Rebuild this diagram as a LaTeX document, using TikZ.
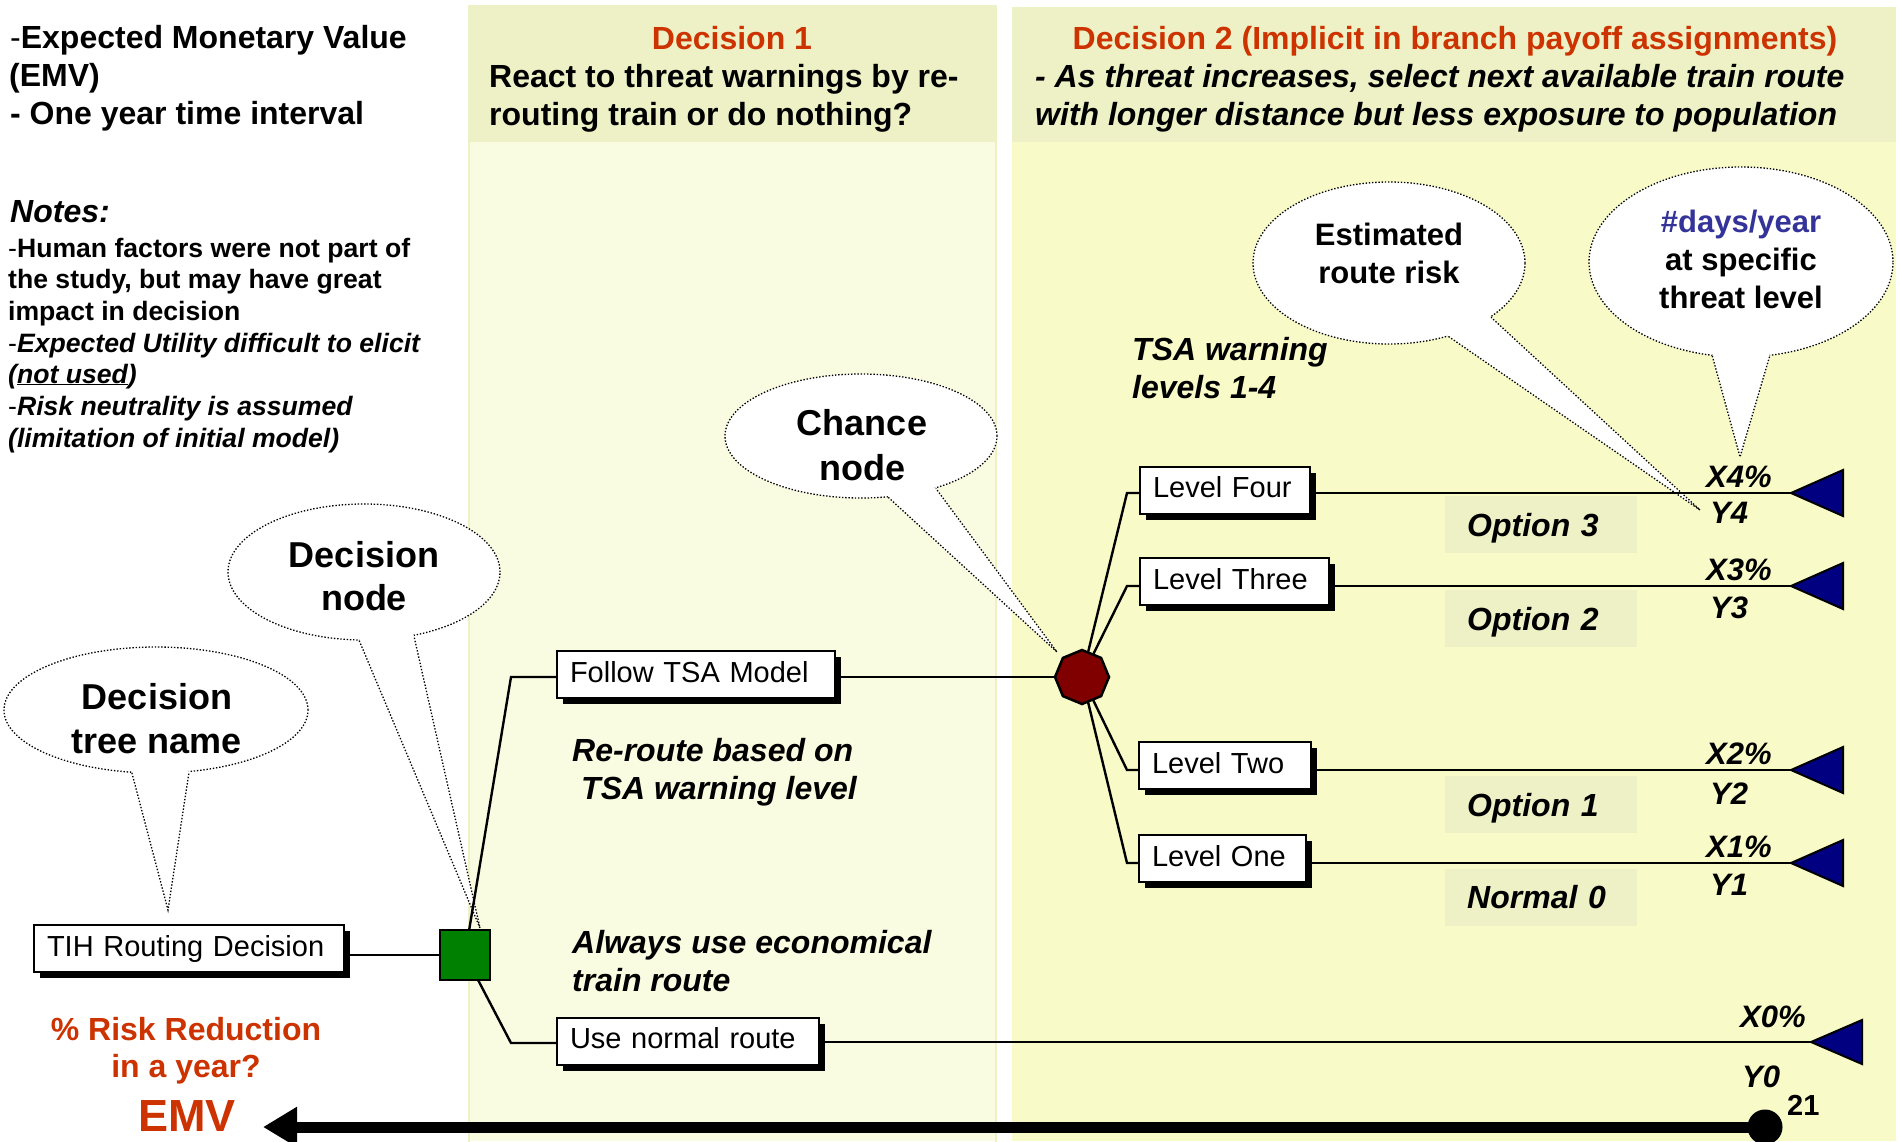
\documentclass[tikz,border=0pt]{standalone}
\usepackage{fontspec}
\setmainfont{Liberation Sans}
\usetikzlibrary{shapes.geometric,shadows,arrows.meta,calc}
\newcommand\myfs[2]{\fontsize{#1}{#2}\selectfont}
\definecolor{hdr}{HTML}{EEF0C6}
\definecolor{bodyA}{HTML}{FAFCE2}
\definecolor{bodyB}{HTML}{F8FAC8}
\definecolor{redo}{HTML}{CC3300}
\definecolor{navyt}{HTML}{000080}
\definecolor{chred}{HTML}{800000}
\definecolor{dgreen}{HTML}{008000}
\definecolor{bluet}{HTML}{333399}
\pgfdeclarelayer{bg}\pgfdeclarelayer{callouts}\pgfdeclarelayer{lines}
\pgfsetlayers{bg,callouts,lines,main}
\tikzset{
  tx/.style={anchor=base west, inner sep=0, font=\myfs{32}{38}\bfseries},
  txc/.style={anchor=base, inner sep=0, font=\myfs{32}{38}\bfseries},
  ital/.style={font=\myfs{32}{38}\bfseries\itshape},
  note/.style={anchor=base west, inner sep=0, font=\myfs{26.6}{32}\bfseries},
  tbox/.style={draw=black, line width=2, fill=white, anchor=west, inner xsep=13, inner ysep=0,
    minimum height=47, align=left, text height=21, text depth=6, font=\myfs{29}{31},
    drop shadow={shadow xshift=6pt, shadow yshift=-6pt, fill=black, opacity=1}},
  conn/.style={line width=2.4, line join=miter},
  payoff/.style={draw=black, fill=navyt, line width=2, line join=miter},
  callout/.style={ellipse, draw=black, fill=white, line width=1.3, dash pattern=on 1.4pt off 1.8pt, inner sep=0},
  tailst/.style={draw=black, line width=1.3, dash pattern=on 1.4pt off 1.8pt},
  cot/.style={anchor=base, inner sep=0, font=\myfs{36}{43}\bfseries},
  cotb/.style={anchor=base, inner sep=0, font=\myfs{31}{38}\bfseries},
  opt/.style={fill=hdr, anchor=west, minimum height=57, text width=148, inner xsep=22, inner ysep=0,
    align=left, text height=23, text depth=0, font=\myfs{32}{38}\bfseries\itshape},
  xy/.style={anchor=base west, inner sep=0, font=\myfs{31}{36}\bfseries\itshape}
}
\begin{document}
\begin{tikzpicture}[x=1pt,y=-1pt]
\useasboundingbox (0,0) rectangle (1900,1141);
\begin{pgfonlayer}{bg}
\fill[white] (0,0) rectangle (1900,1141);
\fill[bodyA] (469,6) rectangle (996,1141);
\draw[hdr, line width=2] (469,6) rectangle (996,1150);
\fill[hdr] (469,6) rectangle (996,142);
\fill[bodyB] (1012,7) rectangle (1896,1141);
\fill[hdr] (1012,7) rectangle (1896,142);
\end{pgfonlayer}

% left text block
\node[tx] (ta) at (10,48) {{\mdseries -}Expected Monetary Value};
\node[tx] (tb) at (9,86) {(EMV)};
\node[tx] (tc) at (10,124) {- One year time interval};
\node[tx, ital] (nt) at (10,222) {Notes:};
\node[note] (n1) at (8,257) {{\mdseries -}Human factors were not part of};
\node[note] (n2) at (8,288) {the study, but may have great};
\node[note] (n3) at (8,320) {impact in decision};
\node[note] (n4) at (8,352) {{\mdseries -}\textit{Expected Utility difficult to elicit}};
\node[note] (n5) at (8,383) {\textit{(\underline{not used})}};
\node[note] (n6) at (8,415) {{\mdseries -}\textit{Risk neutrality is assumed}};
\node[note] (n7) at (8,447) {\textit{(limitation of initial model)}};

% headers
\node[txc, text=redo] (d1t) at (732,49) {Decision 1};
\node[tx] (d1a) at (489,87) {React to threat warnings by re-};
\node[tx] (d1b) at (489,125) {routing train or do nothing?};
\node[txc, text=redo] (d2t) at (1455,49) {Decision 2 (Implicit in branch payoff assignments)};
\node[tx, ital] (d2a) at (1035,87) {- As threat increases, select next available train route};
\node[tx, ital] (d2b) at (1035,125) {with longer distance but less exposure to population};

% callouts
\begin{pgfonlayer}{callouts}
\node[callout, minimum width=304, minimum height=126] (k1) at (156,710) {};
\coordinate (k1t) at (168,910);
\fill[white] (k1.center) -- (k1.249) -- (k1t) -- (k1.298) -- cycle;
\draw[tailst] (k1.249) -- (k1t) -- (k1.298);
\node[callout, minimum width=272, minimum height=136] (k2) at (364,572) {};
\coordinate (k2t) at (480,928);
\fill[white] (k2.center) -- (k2.266) -- (k2t) -- (k2.308) -- cycle;
\draw[tailst] (k2.266) -- (k2t) -- (k2.308);
\node[callout, minimum width=272, minimum height=124] (k3) at (861,436) {};
\coordinate (k3t) at (1057,652);
\fill[white] (k3.center) -- (k3.294) -- (k3t) -- (k3.325) -- cycle;
\draw[tailst] (k3.294) -- (k3t) -- (k3.325);
\node[callout, minimum width=272, minimum height=162] (k4) at (1389,263) {};
\coordinate (k4t) at (1700,510);
\fill[white] (k4.center) -- (k4.309) -- (k4t) -- (k4.332) -- cycle;
\draw[tailst] (k4.309) -- (k4t) -- (k4.332);
\node[callout, minimum width=304, minimum height=190] (k5) at (1741,262) {};
\coordinate (k5t) at (1740,457);
\fill[white] (k5.center) -- (k5.253) -- (k5t) -- (k5.287) -- cycle;
\draw[tailst] (k5.253) -- (k5t) -- (k5.287);
\end{pgfonlayer}
\node[cot] (k1a) at (157,709) {Decision};
\node[cot] (k1b) at (157,753) {tree name};
\node[cot] (k2a) at (364,567) {Decision};
\node[cot] (k2b) at (364,610) {node};
\node[cot] (k3a) at (862,435) {Chance};
\node[cot] (k3b) at (862,480) {node};
\node[cotb] (k4a) at (1389,245) {Estimated};
\node[cotb] (k4b) at (1389,283) {route risk};
\node[cotb, text=bluet] (k5a) at (1741,232) {\#days/year};
\node[cotb] (k5b) at (1741,270) {at specific};
\node[cotb] (k5c) at (1741,308) {threat level};

% tree nodes
\node[tbox, text width=284] (tih) at (33,948.5) {TIH Routing Decision};
\node[tbox, text width=252] (fol) at (556,674.5) {Follow TSA Model};
\node[tbox, text width=236] (nor) at (556,1041) {Use normal route};
\node[tbox, text width=144] (l4) at (1139,490) {Level Four};
\node[tbox, text width=163] (l3) at (1139,581.5) {Level Three};
\node[tbox, text width=146] (l2) at (1138,765.5) {Level Two};
\node[tbox, text width=141] (l1) at (1138,858.5) {Level One};
\node[draw=black, line width=2.5, fill=dgreen, minimum size=50, inner sep=0] (sq) at (465,955) {};
\node[regular polygon, regular polygon sides=8, shape border rotate=22.5, draw=black, line width=2.5,
  fill=chred, minimum size=54, inner sep=0] (ch) at (1082,677) {};

\coordinate (cF) at (511,677);
\coordinate (cN) at (511,1043);
\coordinate (c4) at (1127,493);
\coordinate (c3) at (1127,586);
\coordinate (c2) at (1127,770);
\coordinate (c1) at (1127,863);
\coordinate (t4) at (1791,493);
\coordinate (t3) at (1791,586);
\coordinate (t2) at (1791,770);
\coordinate (t1) at (1791,863);
\coordinate (t0) at (1811,1042);

\begin{pgfonlayer}{lines}
\draw[conn] (sq.center) -- (sq.center -| tih.east);
\draw[conn] (sq.center) -- (cF) -- (cF -| fol.west);
\draw[conn] (sq.center) -- (cN) -- (cN -| nor.west);
\draw[conn] (fol.east |- ch.center) -- (ch.center);
\draw[conn] (ch.center) -- (c4) -- (c4 -| l4.west);
\draw[conn] (ch.center) -- (c3) -- (c3 -| l3.west);
\draw[conn] (ch.center) -- (c2) -- (c2 -| l2.west);
\draw[conn] (ch.center) -- (c1) -- (c1 -| l1.west);
\draw[conn] (c4 -| l4.east) -- (t4);
\draw[conn] (c3 -| l3.east) -- (t3);
\draw[conn] (c2 -| l2.east) -- (t2);
\draw[conn] (c1 -| l1.east) -- (t1);
\draw[conn] (t0 -| nor.east) -- (t0);
\end{pgfonlayer}

% payoff triangles
\draw[payoff] (t4) -- ++(52,-23) -- ++(0,46) -- cycle;
\draw[payoff] (t3) -- ++(52,-23) -- ++(0,46) -- cycle;
\draw[payoff] (t2) -- ++(52,-23) -- ++(0,46) -- cycle;
\draw[payoff] (t1) -- ++(52,-23) -- ++(0,46) -- cycle;
\draw[payoff] (t0) -- ++(51,-22) -- ++(0,44) -- cycle;

% option boxes
\node[opt] (o3) at (1445,524.5) {Option 3};
\node[opt] (o2) at (1445,618.5) {Option 2};
\node[opt] (o1) at (1445,804.5) {Option 1};
\node[opt] (o0) at (1445,897) {Normal 0};

% payoff labels
\node[xy] (x4) at (1706,487) {X4\%};
\node[xy] (y4) at (1710,523) {Y4};
\node[xy] (x3) at (1706,580) {X3\%};
\node[xy] (y3) at (1710,618) {Y3};
\node[xy] (x2) at (1706,764) {X2\%};
\node[xy] (y2) at (1710,804) {Y2};
\node[xy] (x1) at (1706,857) {X1\%};
\node[xy] (y1) at (1710,895) {Y1};
\node[xy] (x0) at (1740,1027) {X0\%};
\node[xy] (y0) at (1742,1087) {Y0};
\node[anchor=base west, inner sep=0, font=\myfs{29}{30}\bfseries] (n21) at (1787,1115) {21};

% branch texts
\node[tx, ital] (r1) at (572,761) {Re-route based on};
\node[tx, ital] (r2) at (581,799) {TSA warning level};
\node[tx, ital] (a1) at (572,953) {Always use economical};
\node[tx, ital] (a2) at (572,991) {train route};
\node[tx, ital] (w1) at (1132,360) {TSA warning};
\node[tx, ital] (w2) at (1132,398) {levels 1-4};

% EMV
\node[txc, text=redo] (p1) at (186,1040) {\% Risk Reduction};
\node[txc, text=redo] (p2) at (186,1077) {in a year?};
\node[anchor=base west, inner sep=0, text=redo, font=\myfs{45}{50}\bfseries] (emv) at (138,1131) {EMV};
\node[circle, fill=black, minimum size=35, inner sep=0] (dot) at (1765,1127) {};
\coordinate (emvtip) at (263,1127);
\begin{pgfonlayer}{lines}
\draw[line width=11, -{Triangle[length=34pt,width=38pt]}] (dot.center) -- (emvtip);
\end{pgfonlayer}
\end{tikzpicture}
\end{document}
